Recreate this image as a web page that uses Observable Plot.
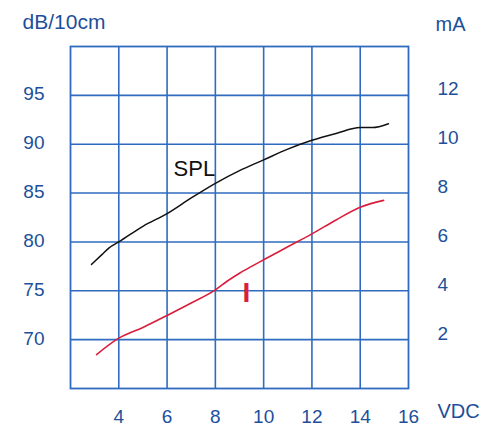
<!DOCTYPE html>
<html>
<head>
<meta charset="utf-8">
<script src="https://cdn.jsdelivr.net/npm/d3@7"></script>
<script src="https://cdn.jsdelivr.net/npm/@observablehq/plot@0.6"></script>
<style>
  html, body { margin: 0; padding: 0; background: #ffffff; }
</style>
</head>
<body>
<div id="chart"></div>
<script>
// Sound pressure level (dB/10cm) vs supply voltage (VDC)
const splVdc = [2.87, 3.3, 3.6, 4, 5, 6, 7, 8, 9, 10, 11, 12, 13, 14, 14.5, 15.17];
const splDb  = [77.7, 78.7, 79.4, 80.0, 81.6, 82.9, 84.5, 86.0, 87.3, 88.4, 89.5, 90.4, 91.1, 91.7, 91.7, 92.1];

// Current (mA) vs supply voltage (VDC)
const curVdc = [3.08, 4, 5, 6, 7, 8, 8.5, 9, 9.5, 10, 11, 12, 13, 14, 14.97];
const curMa  = [1.39, 2.06, 2.5, 2.99, 3.5, 4.04, 4.4, 4.72, 5.0, 5.27, 5.8, 6.33, 6.9, 7.42, 7.70];

// Tick labels
const xTicks  = [4, 6, 8, 10, 12, 14, 16];
const dbTicks = [70, 75, 80, 85, 90, 95];
const maTicks = [2, 4, 6, 8, 10, 12];

// mapping of right axis (mA) onto left axis (dB): 0 mA -> 65 dB, 2.5 dB per mA
const maToDb = m => 65 + m * 2.5;
const dbToMa = d => (d - 65) / 2.5;

const splData = splVdc.map((v, i) => ({v, y: splDb[i]}));
const curData = curVdc.map((v, i) => ({v, y: maToDb(curMa[i])}));

const blueGrid = "#2f6bbf";
const blueText = "#1d4f9b";
const red = "#d91e3c";

const chart = Plot.plot({
  width: 485,
  height: 427,
  marginLeft: 70,
  marginRight: 77,
  marginTop: 46,
  marginBottom: 39,
  style: {fontFamily: "'Liberation Sans', Arial, sans-serif", fontSize: "19px", color: blueText, background: "#ffffff"},
  x: {domain: [2, 16]},
  y: {domain: [65, 100]},
  marks: [
    Plot.ruleX(xTicks.slice(0, -1), {stroke: blueGrid, strokeWidth: 1.6}),
    Plot.ruleY(dbTicks, {stroke: blueGrid, strokeWidth: 1.6}),
    Plot.frame({stroke: blueGrid, strokeWidth: 1.8}),
    Plot.axisX(xTicks, {tickSize: 0, tickPadding: 21, fontSize: 19, label: null, color: blueText}),
    Plot.axisY(dbTicks, {anchor: "left", tickSize: 0, tickPadding: 26, fontSize: 19, dy: -1, label: null, color: blueText}),
    Plot.axisY(maTicks.map(maToDb), {anchor: "right", tickSize: 0, tickPadding: 29, fontSize: 19, dy: -6, label: null, color: blueText, tickFormat: d => String(Math.round(dbToMa(d)))}),
    Plot.line(splData, {x: "v", y: "y", stroke: "#111111", strokeWidth: 1.5, curve: "monotone-x"}),
    Plot.line(curData, {x: "v", y: "y", stroke: red, strokeWidth: 1.6, curve: "monotone-x"}),
    Plot.text(["SPL"], {x: 6.27, y: 87.5, text: d => d, textAnchor: "start", fontSize: 22, fill: "#111111"}),
    Plot.text(["I"], {x: 9.29, y: 74.8, text: d => d, textAnchor: "middle", fontSize: 28, fontWeight: "bold", fill: red}),
    Plot.text(["dB/10cm"], {frameAnchor: "top-left", text: d => d, textAnchor: "start", dx: -48, dy: -32, fontSize: 21, fill: blueText}),
    Plot.text(["mA"], {frameAnchor: "top-right", text: d => d, textAnchor: "start", dx: 27, dy: -30, fontSize: 20, fill: blueText}),
    Plot.text(["VDC"], {frameAnchor: "bottom-right", text: d => d, textAnchor: "start", dx: 29, dy: 29, fontSize: 20, fill: blueText})
  ]
});
document.getElementById("chart").appendChild(chart);
</script>
</body>
</html>
